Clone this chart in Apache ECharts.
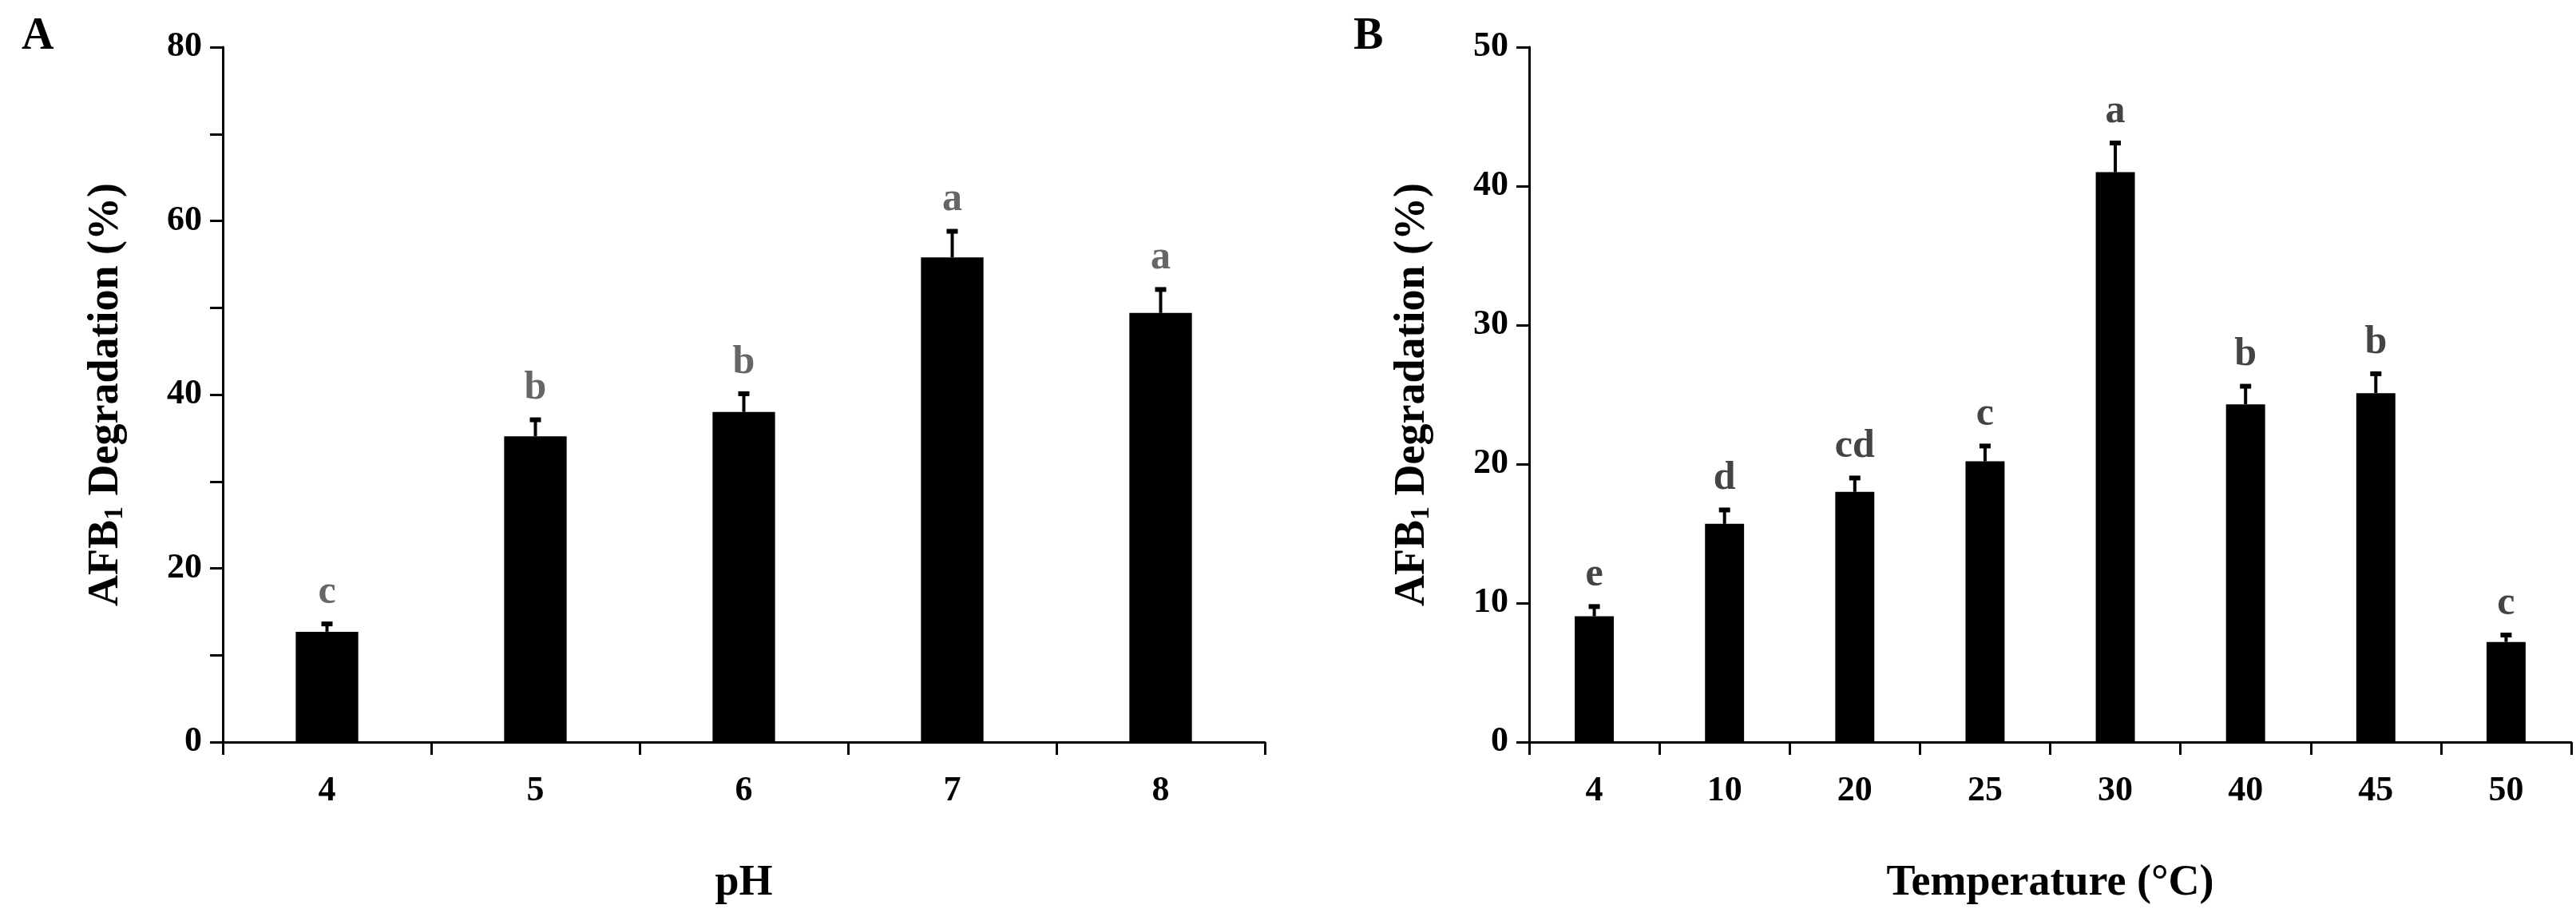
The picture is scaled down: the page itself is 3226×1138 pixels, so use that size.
<!DOCTYPE html>
<html><head><meta charset="utf-8">
<script src="https://cdn.jsdelivr.net/npm/echarts@6/dist/echarts.min.js"></script>
<style>html,body{margin:0;background:#fff}#c{width:3226px;height:1138px}</style>
</head><body><div id="c"></div>
<script>
const phCats = ['4','5','6','7','8'];
const phVals = [12.7, 35.2, 38.0, 55.8, 49.4];
const phErr = [0.9, 1.9, 2.1, 3.0, 2.7];
const phLetters = ['c','b','b','a','a'];
const tCats = ['4','10','20','25','30','40','45','50'];
const tVals = [9.05, 15.7, 18.0, 20.2, 41.0, 24.3, 25.1, 7.2];
const tErr = [0.7, 1.0, 1.0, 1.1, 2.1, 1.3, 1.4, 0.5];
const tLetters = ['e','d','cd','c','a','b','b','c'];

const FONT = 'Liberation Serif';
const chart = echarts.init(document.getElementById('c'));
function xAxis(idx, cats, name){
  return {type:'category', gridIndex:idx, data:cats, name:name, nameLocation:'middle', nameGap:150,
    nameTextStyle:{fontFamily:FONT,fontWeight:'bold',fontSize:54,color:'#000'},
    axisLine:{lineStyle:{color:'#000',width:3}}, axisTick:{show:true,inside:false,length:16,lineStyle:{color:'#000',width:3}},
    axisLabel:{fontFamily:FONT,fontWeight:'bold',fontSize:44,color:'#000',margin:40}};
}
function yAxis(idx, max, interval, minor){
  return {type:'value', gridIndex:idx, min:0, max:max, interval:interval, name:'{m|AFB}{s|1}{m| Degradation (%)}',
    nameLocation:'middle', nameRotate:90, nameGap:118,
    nameTextStyle:{rich:{m:{fontFamily:FONT,fontWeight:'bold',fontSize:54,color:'#000'},
      s:{fontFamily:FONT,fontWeight:'bold',fontSize:34,color:'#000',padding:[22,0,0,0]}}},
    splitLine:{show:false},
    axisLine:{show:true,lineStyle:{color:'#000',width:3}},
    axisTick:{show:true,length:16,lineStyle:{color:'#000',width:3}},
    minorTick:{show:minor,splitNumber:2,length:16,lineStyle:{color:'#000',width:3}},
    axisLabel:{fontFamily:FONT,fontWeight:'bold',fontSize:44,color:'#000',margin:26}};
}
function errSeries(idx, vals, errs, letters, color){
  return {type:'custom', xAxisIndex:idx, yAxisIndex:idx, z:5,
    data: vals.map((v,i)=>[i, v, v+errs[i], letters[i]]),
    renderItem:(params, api)=>{
      const base = api.coord([api.value(0), api.value(1)]);
      const top = api.coord([api.value(0), api.value(2)]);
      return {type:'group', children:[
        {type:'line', shape:{x1:base[0],y1:base[1],x2:top[0],y2:top[1]}, style:{stroke:'#000',lineWidth:4}},
        {type:'line', shape:{x1:top[0]-7,y1:top[1],x2:top[0]+7,y2:top[1]}, style:{stroke:'#000',lineWidth:6}},
        {type:'text', x:top[0], y:top[1]-14, style:{text:letters[params.dataIndex], fontFamily:FONT, fontWeight:'bold', fontSize:50, fill:color, align:'center', verticalAlign:'bottom'}}
      ]};
    }};
}
chart.setOption({
  animation:false,
  title:[{text:'A',left:22,top:14,textStyle:{fontFamily:FONT,fontWeight:'bold',fontSize:56,color:'#000'}},
         {text:'B',left:1690,top:14,textStyle:{fontFamily:FONT,fontWeight:'bold',fontSize:56,color:'#000'}}],
  grid:[{left:279,right:1642,top:59,bottom:207},{left:1915,right:6,top:59,bottom:207}],
  xAxis:[xAxis(0,phCats,'pH'), xAxis(1,tCats,'Temperature (°C)')],
  yAxis:[yAxis(0,80,20,true), yAxis(1,50,10,false)],
  series:[
    {type:'bar', xAxisIndex:0, yAxisIndex:0, data:phVals, barWidth:'30%', itemStyle:{color:'#000'}},
    {type:'bar', xAxisIndex:1, yAxisIndex:1, data:tVals, barWidth:'30%', itemStyle:{color:'#000'}},
    errSeries(0, phVals, phErr, phLetters, '#666'),
    errSeries(1, tVals, tErr, tLetters, '#444')
  ]
});
</script></body></html>
